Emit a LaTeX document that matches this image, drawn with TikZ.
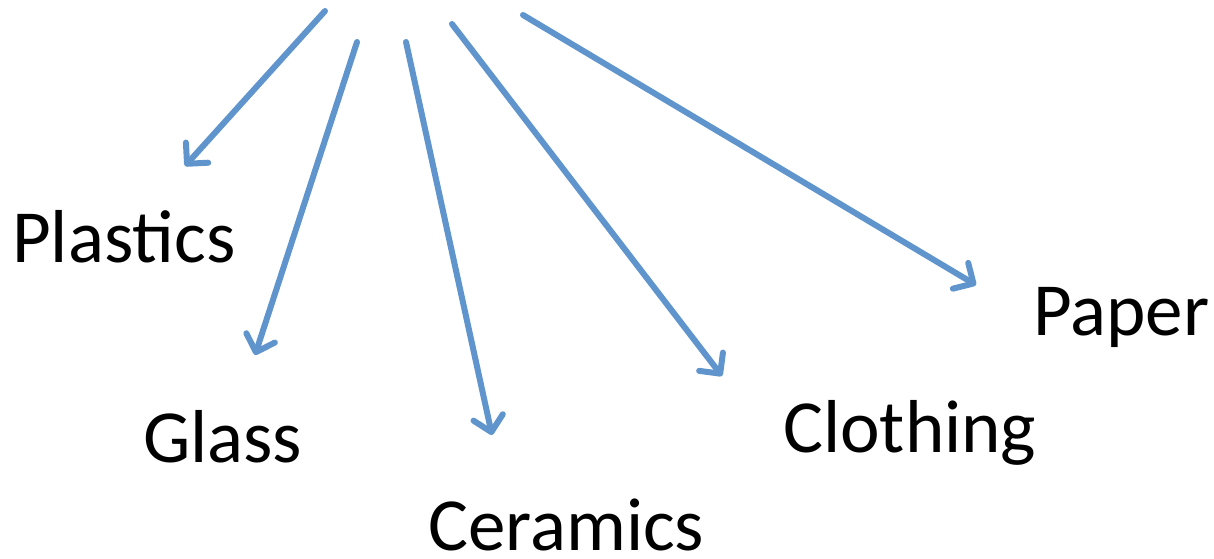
\documentclass[tikz,border=0pt]{standalone}
\usepackage{fontspec}
\setmainfont{Carlito}
\usetikzlibrary{arrows.meta}
\definecolor{arrowblue}{RGB}{95,149,204}
\tikzset{
  lbl/.style={anchor=base west, inner sep=0pt, font=\fontsize{75}{80}\selectfont},
  arr/.style={draw=arrowblue, line width=6pt, line cap=round, -{Straight Barb[length=15pt,width=30pt,line cap=round,line join=round]}}
}
\begin{document}
\begin{tikzpicture}[x=1pt,y=-1pt]
\useasboundingbox (0,0) rectangle (1214,558);
\node[lbl] (plastics) at (12,262) {Plastics};
\node[lbl] (glass) at (143,462) {Glass};
\node[lbl] (ceramics) at (428,550) {Ceramics};
\node[lbl] (clothing) at (783,452) {Clothing};
\node[lbl] (paper) at (1033,335) {Paper};
\coordinate (s1) at (325,11);
\coordinate (e1) at (185,166);
\coordinate (s2) at (357,42);
\coordinate (e2) at (255,355);
\coordinate (s3) at (406,42);
\coordinate (e3) at (492,435);
\coordinate (s4) at (452,24);
\coordinate (e4) at (722,376);
\coordinate (s5) at (523,15);
\coordinate (e5) at (976,285);
\draw[arr] (s1) -- (e1);
\draw[arr] (s2) -- (e2);
\draw[arr] (s3) -- (e3);
\draw[arr] (s4) -- (e4);
\draw[arr] (s5) -- (e5);
\end{tikzpicture}
\end{document}
